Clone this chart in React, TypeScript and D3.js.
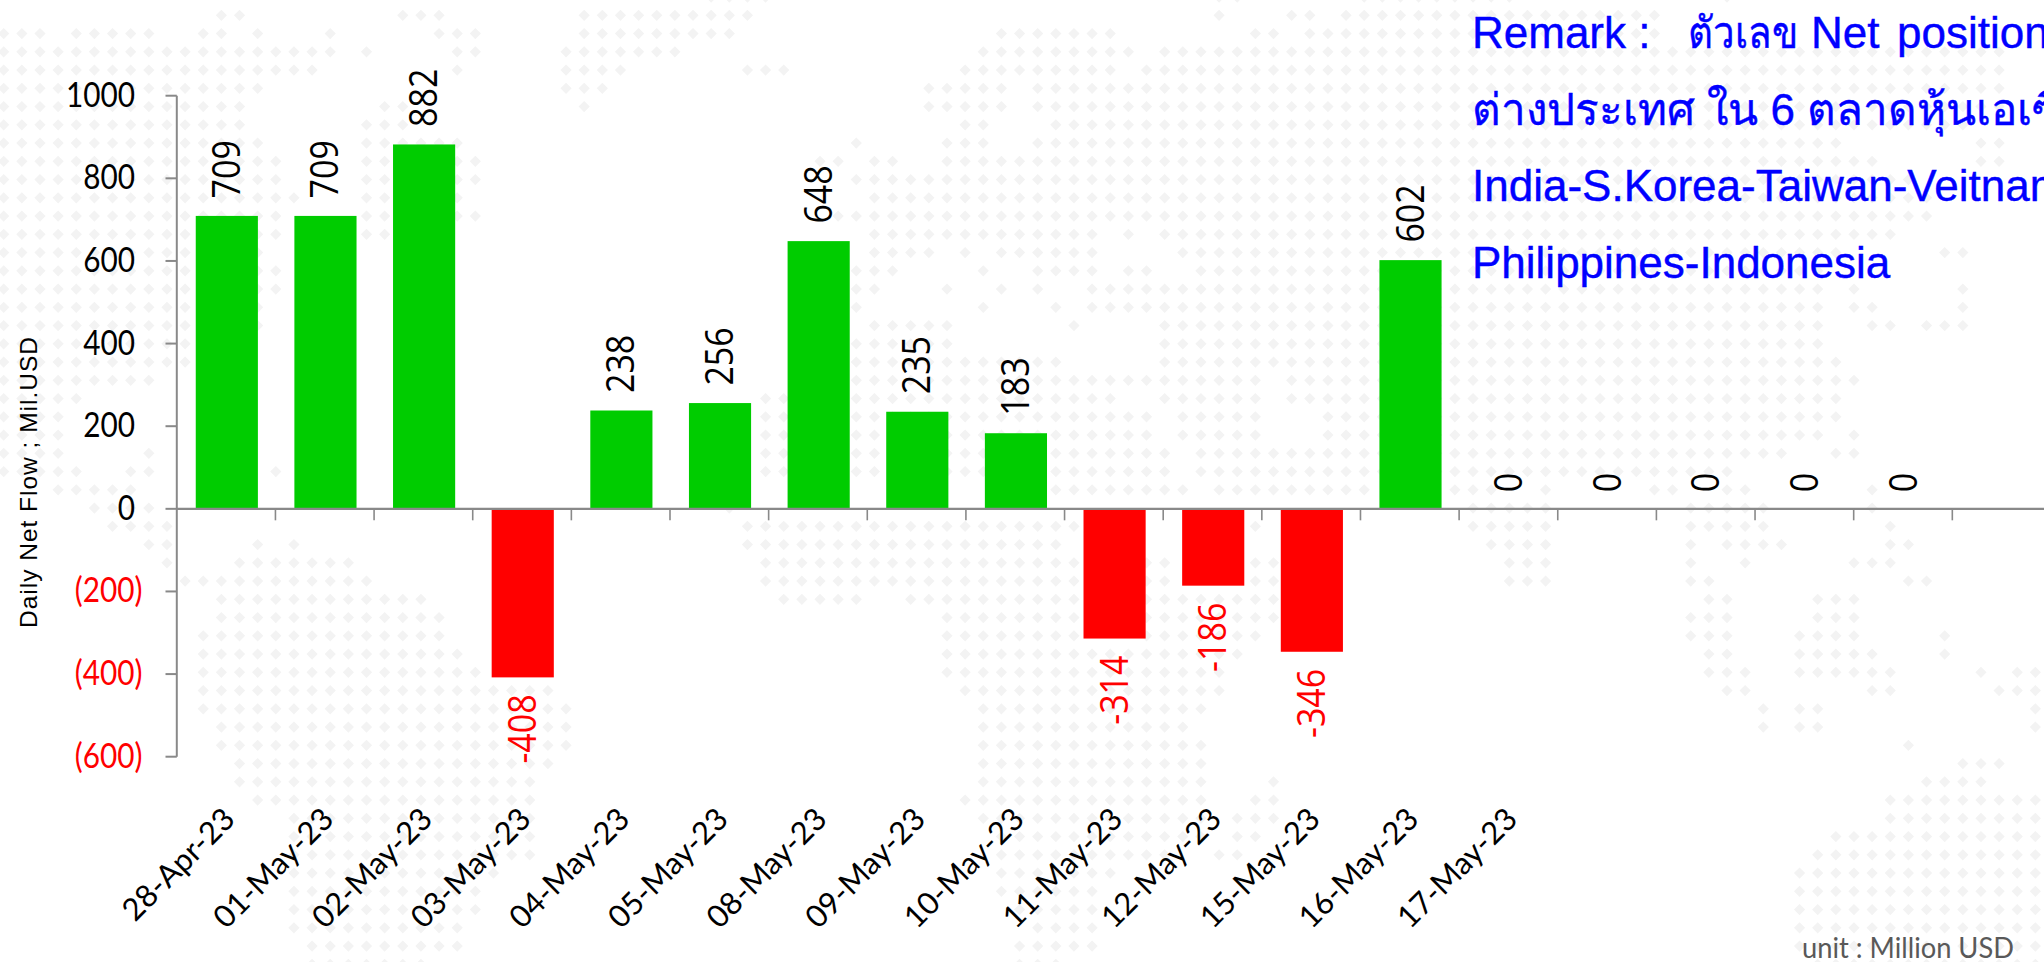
import React from "react";
import * as d3 from "d3";

const dates = ["28-Apr-23","01-May-23","02-May-23","03-May-23","04-May-23","05-May-23","08-May-23","09-May-23","10-May-23","11-May-23","12-May-23","15-May-23","16-May-23","17-May-23","","","","",""];
const netFlow: (number | null)[] = [709,709,882,-408,238,256,648,235,183,-314,-186,-346,602,0,0,0,0,0,null];
const yTicks = [1000,800,600,400,200,0,-200,-400,-600];
const remarkLines = ["","ต่างประเทศ ใน 6 ตลาดหุ้นเอเซีย","India-S.Korea-Taiwan-Veitnam-","Philippines-Indonesia"];
const remarkLead = ["Remark :", "ตัวเลข", "Net", "position"];
const mapRuns: string[] = [
"39-42 67-68 75-83 95",
"12-13 22-24 32-41 67 71-72 74-91",
"0-2 4-8 11-12 14 18 24-26 32-40 55-61 69-70 72-91",
"0-18 20 25-26 31-37 54-62 64-110",
"0-17 25 31-34 41-43 53-61 63-110",
"0-14 31-33 51-55 57-110",
"0-13 21-22 32 51-55 57-110",
"0-13 20-22 53-54 58-108",
"0-14 20-25 47 52-54 57-101 109-110",
"0-15 20-26 45-46 48-49 52-103 109-110",
"0-15 20-26 47-105",
"0-16 20-25 48-106",
"0-15 20-26 46-106",
"0-15 20-21 48-60 62 64-104",
"0-14 48-51 53 55-60 65-101 107-108",
"0-15 47-49 54 57-60 62-63 66-100",
"0-15 47-48 52 55 57 60-100 102 108",
"0-14 47 54 58 60-100 102-103 108",
"0-14 48-52 59 64-100 103-104 106-108",
"0-10 47-52 64-100",
"0-10 47-58 64-101",
"0-8 47-69 71-102",
"0-4 42-61 64-69 71-101",
"0-3 42-63 65-69 73-101",
"0-3 42-63 65-69 73-100 102",
"0-3 8 42-64 66-98 101-102",
"0-4 7-8 15 42-64 66-95",
"3-7 58-65 67-75 80-82 85 91-92 95-96 103",
"5-8 40 81-85 93-97 103",
"6-9 41-59 69 81-85 93-97 104",
"8-9 14 16 41-58 82-85 93 95-98 104-105",
"9 13-19 42-59 63-64 69-70 83-85 93 96 102-104",
"10-20 42-59 63-64 69-70 83-85 93-94 105-106",
"12-23 43-47 50-59 63-70 94-95 100-102",
"12-24 52-59 63-70 93-95 100-102",
"11-24 52-59 63-69 93-95 99-102 107",
"11-25 52-68 94-95 99-103 107",
"11-26 52-67 94-96 99-104 109 111-112",
"11-30 53-67 95-96 103-104 110-112",
"11-31 54-66 97 99-100 112",
"12-31 54-65 97 99-100 112",
"12-31 54-66 105",
"13-30 54-66 108-110",
"13-29 54-66 70 106-109",
"14-29 53-66 69-70 104-112",
"16-29 54-66 68-70 104-112",
"16-29 55-66 68-69 101-112",
"16-29 55-64 67-68 100-112",
"16-27 55-61 99-112",
"16-26 55-60 99-112",
"16-26 56-60 99-112",
"16-25 57-60 99-112",
"17-25 56-60 99-112",
"17-23 56-58 100-112",
];

const W = 2044, H = 962;
const GREEN = "#00cc00", RED = "#ff0000", AXIS = "#898989", DOT = "#f3f3f3";

const colX = d3.scaleLinear().domain([0, 1]).range([3.7, 3.7 + 18.14]);
const rowY = d3.scaleLinear().domain([0, 1]).range([-2.95, -2.95 + 18.25]);
const diamond = (cx: number, cy: number, r: number) => `M${cx},${cy - r}L${cx + r},${cy}L${cx},${cy + r}L${cx - r},${cy}Z`;
const dots: [number, number][] = mapRuns.flatMap((line, r) =>
  line.split(" ").flatMap((run) => {
    const [a, b] = run.split("-").map(Number);
    return d3.range(a, (b ?? a) + 1).map((c) => [colX(c), rowY(r)] as [number, number]);
  })
);

const yAxisX = 176.8;
const x = d3.scaleBand<number>().domain(d3.range(dates.length)).range([yAxisX + 0.7, yAxisX + 0.7 + 98.64 * dates.length]).paddingInner(0.37).paddingOuter(0.185);
const y = d3.scaleLinear().domain([-600, 1000]).range([756.7, 95.7]);
const labelFont = "'Open Sans', sans-serif";
const calibri = "Lato, sans-serif";

export default function App() {
  const zeroY = y(0);
  const step = x.step();
  return (
    <svg width={W} height={H} viewBox={`0 0 ${W} ${H}`} style={{ position: "absolute", left: 0, top: 0, display: "block", background: "#fff" }}>
      <path d={dots.map(([a, b]) => diamond(a, b, 5.6)).join("")} fill={DOT} />

      {netFlow.map((v, i) =>
        v === null || v === 0 ? null : (
          <rect key={i} x={x(i)} width={x.bandwidth()} y={v > 0 ? y(v) : zeroY} height={Math.abs(y(v) - zeroY)} fill={v > 0 ? GREEN : RED} />
        )
      )}

      <line x1={yAxisX} x2={yAxisX} y1={y(1000)} y2={y(-600)} stroke={AXIS} strokeWidth={2} />
      {yTicks.map((t) => (
        <g key={t}>
          <line x1={165.5} x2={yAxisX} y1={y(t)} y2={y(t)} stroke={AXIS} strokeWidth={2} />
          <text transform={`translate(${t < 0 ? 142.5 : 135},${y(t) + 11}) scale(0.93,1.06)`} textAnchor="end" fontFamily={calibri} fontSize={32} fill={t < 0 ? RED : "#000"}>
            {t < 0 ? `(${-t})` : t}
          </text>
        </g>
      ))}
      <line x1={yAxisX} x2={W} y1={zeroY} y2={zeroY} stroke={AXIS} strokeWidth={2.4} />
      {d3.range(1, dates.length).map((i) => (
        <line key={i} x1={yAxisX + step * i} x2={yAxisX + step * i} y1={zeroY} y2={zeroY + 11.5} stroke={AXIS} strokeWidth={1.6} />
      ))}

      {netFlow.map((v, i) => {
        if (v === null) return null;
        const cx = (x(i) as number) + x.bandwidth() / 2;
        const pos = v >= 0;
        const ty = pos ? (v === 0 ? zeroY - 16.5 : y(v) - 17.5) : y(v) + 17;
        return (
          <text key={i} transform={`translate(${cx + 13},${ty}) rotate(-90) scale(1,1.12)`} textAnchor={pos ? "start" : "end"} fontFamily={labelFont} fontSize={34} fill={pos ? "#000" : RED}>
            {v}
          </text>
        );
      })}

      {dates.map((d, i) =>
        d ? (
          <text key={i} transform={`translate(${(x(i) as number) + x.bandwidth() / 2 + 10},${821}) rotate(-45)`} textAnchor="end" fontFamily={calibri} fontSize={31} fill="#000">
            {d}
          </text>
        ) : null
      )}

      <text transform="translate(37,628) rotate(-90)" fontFamily="'Liberation Sans', Arial, sans-serif" fontSize={24.5} textLength={291} fill="#000">
        Daily Net Flow ; Mil.USD
      </text>

      <g fontFamily="'Liberation Sans', 'Noto Sans', sans-serif" fontSize={44} fill="#0000ff" stroke="#0000ff" strokeWidth={0.4}>
        <text x={1472} y={48}>{remarkLead[0]}</text>
        <text x={1688} y={48} textLength={110} lengthAdjust="spacingAndGlyphs">{remarkLead[1]}</text>
        <text x={1811} y={48}>{remarkLead[2]}</text>
        <text x={1897} y={48}>{remarkLead[3]}</text>
        {remarkLines.map((line, i) =>
          line ? (
            <text key={i} x={1472} y={48 + i * 76.7}>
              {line}
            </text>
          ) : null
        )}
      </g>

      <text x={1802} y={958} fontFamily={calibri} fontSize={28} textLength={212} lengthAdjust="spacingAndGlyphs" fill="#595959">
        unit : Million USD
      </text>
    </svg>
  );
}
